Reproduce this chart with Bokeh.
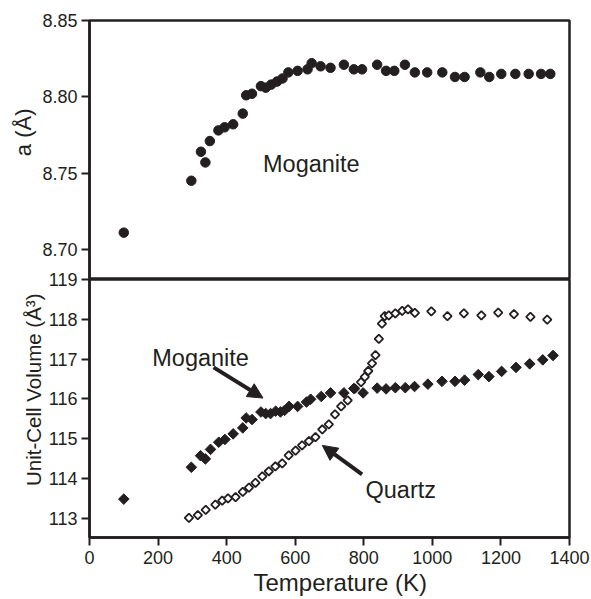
from bokeh.plotting import figure
from bokeh.models import Range1d, FixedTicker, Label, Arrow, NormalHead, PrintfTickFormatter, Title
from bokeh.layouts import column
from bokeh.embed import file_html
from bokeh.resources import INLINE

# Top panel: lattice parameter a of moganite
a_T = [100, 297, 325, 338, 351, 376, 394, 419, 447, 457, 474, 500, 514, 530, 547, 563,
       580, 607, 636, 648, 674, 703, 742, 771, 795, 839, 865, 889, 920, 949, 985, 1029,
       1066, 1094, 1140, 1166, 1201, 1242, 1281, 1317, 1344]
a_val = [8.711, 8.745, 8.764, 8.757, 8.771, 8.778, 8.780, 8.782, 8.789, 8.801, 8.802, 8.807,
         8.806, 8.808, 8.810, 8.812, 8.816, 8.817, 8.818, 8.822, 8.820, 8.819, 8.821, 8.818,
         8.818, 8.821, 8.817, 8.817, 8.821, 8.816, 8.816, 8.816, 8.813, 8.813, 8.816, 8.813,
         8.815, 8.815, 8.815, 8.815, 8.815]

# Bottom panel: unit-cell volume
mog_T = [100, 297, 324, 338, 353, 377, 395, 419, 447, 457, 474, 500, 514, 528, 543, 557,
         569, 582, 607, 633, 645, 676, 703, 742, 771, 798, 839, 865, 892, 921, 948, 987,
         1028, 1066, 1094, 1134, 1165, 1202, 1244, 1284, 1322, 1352]
mog_V = [113.48, 114.28, 114.57, 114.49, 114.73, 114.91, 114.98, 115.12, 115.27, 115.52,
         115.48, 115.67, 115.63, 115.63, 115.69, 115.67, 115.71, 115.81, 115.81, 115.92,
         115.99, 116.06, 116.15, 116.15, 116.26, 116.15, 116.27, 116.25, 116.28, 116.28,
         116.31, 116.37, 116.44, 116.44, 116.47, 116.61, 116.56, 116.69, 116.79, 116.88,
         116.98, 117.09]
qtz_T = [290, 316, 339, 367, 387, 404, 426, 447, 465, 484, 504, 523, 542, 562, 581, 601,
         620, 640, 659, 679, 698, 716, 734, 753, 774, 792, 803, 813, 824, 834, 844, 853,
         861, 873, 892, 912, 929, 949, 997, 1044, 1092, 1143, 1192, 1238, 1286, 1335]
qtz_V = [113.01, 113.08, 113.21, 113.34, 113.44, 113.50, 113.53, 113.66, 113.77, 113.89,
         114.05, 114.18, 114.30, 114.38, 114.58, 114.70, 114.83, 114.94, 115.04, 115.23,
         115.36, 115.61, 115.81, 115.96, 116.26, 116.42, 116.55, 116.70, 116.89, 117.10,
         117.51, 117.89, 118.08, 118.10, 118.15, 118.21, 118.25, 118.16, 118.20, 118.08,
         118.15, 118.10, 118.17, 118.13, 118.06, 117.99]

x_ticks = [0, 200, 400, 600, 800, 1000, 1200, 1400]
a_ticks = [8.70, 8.75, 8.80, 8.85]
v_ticks = [113, 114, 115, 116, 117, 118, 119]

INK = "#231f20"
FONT = "Liberation Sans"


def style_axis(ax, tick_size="18px"):
    ax.axis_line_color = INK
    ax.axis_line_width = 2.5
    ax.major_tick_line_color = INK
    ax.major_tick_line_width = 2
    ax.major_tick_out = 8
    ax.major_tick_in = 0
    ax.minor_tick_line_color = None
    ax.major_label_text_font = FONT
    ax.major_label_text_font_size = tick_size
    ax.major_label_text_color = INK


def base_fig(height, yr, top, bottom):
    p = figure(width=591, height=height, x_range=Range1d(0, 1400), y_range=yr,
               min_border_left=89, min_border_right=22, min_border_top=top,
               min_border_bottom=bottom, output_backend="svg", toolbar_location=None)
    p.grid.visible = False
    p.outline_line_color = INK
    p.outline_line_width = 2.5
    p.outline_line_alpha = 1
    p.background_fill_color = "white"
    return p


def side_title(p, text, place, offset, size, standoff=2):
    t = Title(text=text, align="right", offset=offset, text_font=FONT, text_font_size=size,
              text_font_style="normal", text_color=INK, standoff=standoff)
    p.add_layout(t, place)


p1 = base_fig(279, Range1d(8.6803, 8.85), 20, 0)
p1.border_fill_color = "white"
p1.xaxis.visible = False
p1.yaxis.ticker = FixedTicker(ticks=a_ticks)
p1.yaxis.formatter = PrintfTickFormatter(format="%.2f")
style_axis(p1.yaxis[0])
p1.yaxis.major_label_standoff = 4
p1.scatter(a_T, a_val, marker="circle", size=9.5, fill_color=INK, line_color=INK)
p1.add_layout(Label(x=506, y=8.7563, text="Moganite", text_font=FONT, text_font_size="23.5px",
                    text_color=INK, text_baseline="alphabetic"))
side_title(p1, "a (Å)", "left", 88, "22px", standoff=8)

p2 = base_fig(332, Range1d(112.515, 119), 12, 62)
p2.border_fill_color = None
p2.styles = {"margin-top": "-12px"}
p2.xaxis.ticker = FixedTicker(ticks=x_ticks)
p2.yaxis.ticker = FixedTicker(ticks=v_ticks)
style_axis(p2.xaxis[0])
style_axis(p2.yaxis[0])
p2.xaxis.major_label_standoff = 5
p2.yaxis.major_label_standoff = 4
side_title(p2, "Unit-Cell Volume (Å³)", "left", 14, "20.5px")
p2.add_layout(Title(text="Temperature (K)", align="left", offset=164, text_font=FONT,
                    text_font_size="24px", text_font_style="normal", text_color=INK,
                    standoff=0), "below")

p2.scatter(qtz_T, qtz_V, marker="square", angle=0.785398, size=6, fill_color="white",
           line_color=INK, line_width=1.8)
p2.scatter(mog_T, mog_V, marker="square", angle=0.785398, size=7.5, fill_color=INK,
           line_color=INK)

p2.add_layout(Label(x=183, y=117.03, text="Moganite", text_font=FONT, text_font_size="23.5px",
                    text_color=INK, text_baseline="alphabetic"))
p2.add_layout(Label(x=805, y=113.72, text="Quartz", text_font=FONT, text_font_size="23.5px",
                    text_color=INK, text_baseline="alphabetic"))
p2.add_layout(Arrow(x_start=362, y_start=116.79, x_end=506, y_end=116.02,
                    line_width=4, line_color=INK,
                    end=NormalHead(size=15, fill_color=INK, line_color=INK)))
p2.add_layout(Arrow(x_start=795, y_start=114.10, x_end=679, y_end=114.83,
                    line_width=4, line_color=INK,
                    end=NormalHead(size=15, fill_color=INK, line_color=INK)))

layout = column(p1, p2, spacing=0)
open("out.html", "w").write(file_html(layout, INLINE))
